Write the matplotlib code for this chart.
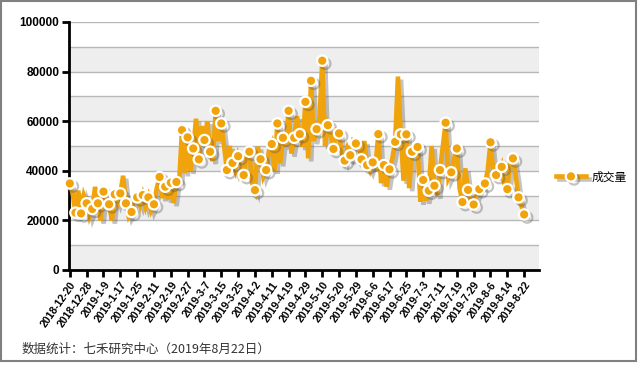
import numpy as np
import matplotlib
matplotlib.use("Agg")
import matplotlib.pyplot as plt
import matplotlib.patheffects as pe
from matplotlib.patches import Rectangle

# daily volume, markers drawn on every 2nd point
volume = [
    34900, 31000, 23100, 32000, 22800, 30000, 26900, 21500, 24600, 33500,
    26900, 20000, 31600, 28000, 26500, 20000, 30500, 27000, 30900, 38000,
    26900, 21500, 23400, 29000, 29300, 26000, 30200, 25500, 29300, 24000,
    26500, 33000, 37500, 29000, 33600, 28500, 35200, 27000, 35500, 36000,
    56400, 39000, 53500, 40000, 49000, 61000, 44600, 58000, 52400, 60000,
    47700, 44000, 64200, 52000, 59100, 50000, 40300, 50000, 43200, 40000,
    45900, 42000, 38300, 47000, 47700, 35000, 32200, 49700, 44700, 37600,
    40300, 48000, 50800, 40000, 59100, 43000, 53300, 50000, 64200, 47000,
    53300, 62000, 54800, 49700, 67800, 45000, 76300, 52000, 56800, 60000,
    84400, 50000, 58400, 55000, 48800, 56000, 55100, 47000, 44100, 49000,
    46300, 52000, 51000, 50000, 44600, 52000, 42300, 40000, 43400, 42000,
    54800, 35000, 42300, 33600, 40600, 45000, 51700, 78000, 54700, 36000,
    54700, 33000, 47700, 50000, 49600, 27600, 36300, 28000, 32000, 50000,
    34000, 30000, 40300, 50000, 59400, 37000, 39400, 45000, 49000, 33000,
    27400, 41000, 32300, 26000, 26400, 30000, 32600, 34000, 34900, 40000,
    51500, 40000, 38300, 38000, 41600, 34000, 32600, 44000, 45000, 38000,
    29300, 26000, 22400,
]
tick_labels = [
    "2018-12-20", "2018-12-28", "2019-1-9", "2019-1-17", "2019-1-25",
    "2019-2-11", "2019-2-19", "2019-2-27", "2019-3-7", "2019-3-15",
    "2019-3-25", "2019-4-2", "2019-4-11", "2019-4-19", "2019-4-29",
    "2019-5-10", "2019-5-20", "2019-5-29", "2019-6-6", "2019-6-17",
    "2019-6-25", "2019-7-3", "2019-7-11", "2019-7-19", "2019-7-29",
    "2019-8-6", "2019-8-14", "2019-8-22",
]
series_name = "成交量"
source_note = "数据统计：七禾研究中心（2019年8月22日）"

cjk = ["Noto Sans CJK SC", "DejaVu Sans"]
orange = "#F0A30A"

fig = plt.figure(figsize=(6.39, 3.65), dpi=100)
ax = fig.add_axes([69 / 639, 1 - 270 / 365, 470 / 639, 248 / 365])

x = np.arange(len(volume))

# alternating bands + grid
for lo in range(0, 100000, 20000):
    ax.axhspan(lo, lo + 10000, color="#eeeeee", zorder=0, lw=0)
for g in range(10000, 100001, 10000):
    ax.axhline(g, color="#b8b8b8", lw=1.0, zorder=1)

shadow = [pe.SimpleLineShadow(offset=(2.2, -2.2), shadow_color="#555555", alpha=0.35),
          pe.Normal()]
ax.plot(x, volume, color=orange, lw=3.3, solid_joinstyle="miter",
        marker="o", markevery=2, ms=7.5, mfc=orange, mec="white", mew=1.6,
        label=series_name, zorder=6, path_effects=shadow, clip_on=False)

ax.set_xlim(-0.3, 167.3)
ax.set_ylim(0, 100000)

ax.set_yticks(range(0, 100001, 20000))
ax.set_yticklabels([str(v) for v in range(0, 100001, 20000)],
                   fontfamily="Liberation Sans", fontweight="bold", fontsize=8.5)
ax.set_xticks(x[::6])
ax.set_xticklabels(tick_labels, rotation=55, ha="right", rotation_mode="anchor",
                   fontfamily="Liberation Sans", fontweight="bold", fontsize=7.6)
ax.tick_params(axis="both", direction="out", length=5, width=2, color="black", pad=2)

for s in ["top", "right"]:
    ax.spines[s].set_visible(False)
for s in ["left", "bottom"]:
    ax.spines[s].set_linewidth(2)
    ax.spines[s].set_color("black")
    ax.spines[s].set_zorder(5)

leg = fig.legend(loc="center left", bbox_to_anchor=(545 / 639, 1 - 177 / 365),
                 frameon=False, handlelength=2.6, handletextpad=0.4,
                 prop={"family": cjk, "size": 8.5})

fig.text(22 / 639, 1 - 349 / 365, source_note, fontfamily=cjk, fontsize=9,
         color="#333333", va="center", ha="left")

fig.patches.append(Rectangle((1 / 639, 4 / 365), 635 / 639, 360 / 365, fill=False,
                             edgecolor="#808080", lw=1.5, transform=fig.transFigure))

fig.savefig("out.png", dpi=100)
